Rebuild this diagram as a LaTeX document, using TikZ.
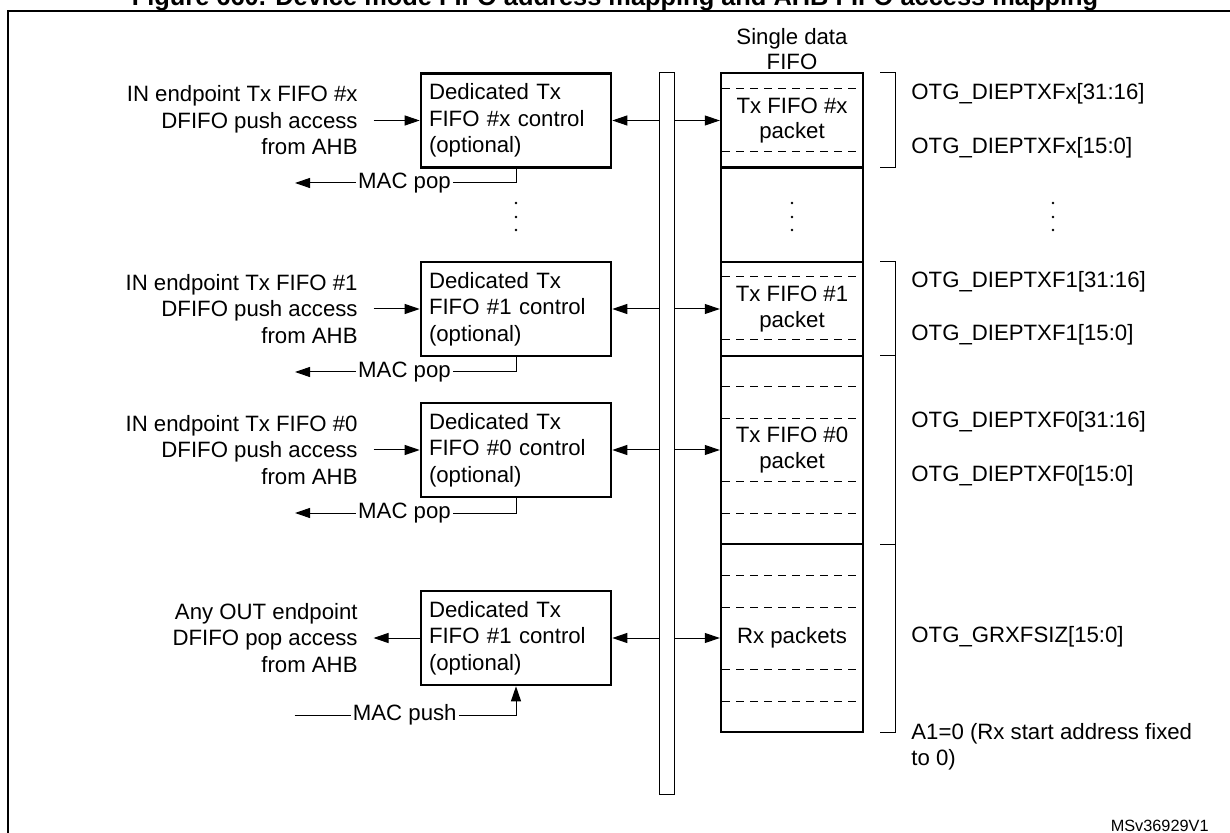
\documentclass[tikz,border=0pt]{standalone}
\usepackage{fontspec}
\setmainfont{Liberation Sans}
\usetikzlibrary{arrows.meta,calc}
\begin{document}
\begin{tikzpicture}[x=0.5pt,y=-0.5pt,
  every node/.style={font=\fontsize{11.1}{13.25}\selectfont, inner sep=0pt},
  ctrl/.style={draw, line width=1.3pt, minimum width=95pt, minimum height=47pt, text width=87pt, inner xsep=4pt, align=left},
  lbl/.style={align=right, anchor=east},
  reg/.style={anchor=west},
  sect/.style={draw, line width=1.2pt, minimum width=71pt, align=center, font=\fontsize{11.1}{12.6}\selectfont},
  arr/.style={line width=0.5pt, -{Triangle[length=7.5pt,width=5pt]}},
  ln/.style={line width=0.5pt},
  dsh/.style={line width=0.5pt, dash pattern=on 4pt off 3pt},
  dotm/.style={fill=black}
]
\useasboundingbox (0,0) rectangle (1230,833);
% title (clipped at top as in the reference)
\node[anchor=base, font=\bfseries\fontsize{12.7}{14}\selectfont] (title) at (615,6) {Figure 660. Device mode FIFO address mapping and AHB FIFO access mapping};
% frame
\draw[line width=1pt] (8,850) -- (8,11.5) -- (1240,11.5);

% bus
\node[draw, line width=0.5pt, minimum width=7.5pt, minimum height=360.5pt] (bus) at (666.5,433.5) {};

% FIFO column
\node at (792,49.5) [align=center, font=\fontsize{11.1}{12.5}\selectfont] (fifot) {Single data\\FIFO};
\node[sect, minimum height=47.25pt] (f1) at (792,120.25) {Tx FIFO \#x\\packet};
\node[sect, minimum height=47.25pt] (f2) at (792,214.75) {};
\node[sect, minimum height=47pt] (f3) at (792,309) {Tx FIFO \#1\\packet};
\node[sect, minimum height=94pt] (f4) at (792,450) {Tx FIFO \#0\\packet};
\node[sect, minimum height=94pt] (f5) at (792,638) {Rx packets};
\foreach \y in {89,152,277,340,387,419,481,513,575,607,669,701}
  \draw[dsh] (722,\y) -- (862,\y);

% brackets
\draw[ln] (880,73) -- (895,73) -- (895,167.5) -- (880,167.5);
\draw[ln] (880,262) -- (895,262) -- (895,732) -- (880,732);
\draw[ln] (880,356) -- (895,356);
\draw[ln] (880,544) -- (895,544);

% register labels
\node[reg] (r1) at (911,94) {OTG\_DIEPTXFx[31:16]};
\node[reg] (r2) at (911,148) {OTG\_DIEPTXFx[15:0]};
\node[reg] (r3) at (911,282) {OTG\_DIEPTXF1[31:16]};
\node[reg] (r4) at (911,335) {OTG\_DIEPTXF1[15:0]};
\node[reg] (r5) at (911,422) {OTG\_DIEPTXF0[31:16]};
\node[reg] (r6) at (911,476) {OTG\_DIEPTXF0[15:0]};
\node[reg] (r7) at (911,637) {OTG\_GRXFSIZ[15:0]};
\node[reg, align=left, font=\fontsize{11.1}{13}\selectfont] (r8) at (911,747) {A1=0 (Rx start address fixed\\to 0)};
\node[anchor=east, font=\fontsize{8.15}{10}\selectfont] (msv) at (1209,826) {MSv36929V1};

% control boxes
\node[ctrl] (b1) at (516,120.5) {Dedicated Tx\\FIFO \#x control\\(optional)};
\node[ctrl] (b2) at (516,309) {Dedicated Tx\\FIFO \#1 control\\(optional)};
\node[ctrl] (b3) at (516,450) {Dedicated Tx\\FIFO \#0 control\\(optional)};
\node[ctrl] (b4) at (516,638) {Dedicated Tx\\FIFO \#1 control\\(optional)};

% left labels
\node[lbl] (l1) at (358,120.5) {IN endpoint Tx FIFO \#x\\DFIFO push access\\from AHB};
\node[lbl] (l2) at (358,309) {IN endpoint Tx FIFO \#1\\DFIFO push access\\from AHB};
\node[lbl] (l3) at (358,450) {IN endpoint Tx FIFO \#0\\DFIFO push access\\from AHB};
\node[lbl] (l4) at (358,638) {Any OUT endpoint\\DFIFO pop access\\from AHB};

% AHB arrows
\draw[arr] ([xshift=7.75pt]l1.east) -- (l1.east -| b1.west);
\draw[arr] ([xshift=7.75pt]l2.east) -- (l2.east -| b2.west);
\draw[arr] ([xshift=7.75pt]l3.east) -- (l3.east -| b3.west);
\draw[arr] (l4.east -| b4.west) -- ([xshift=7.75pt]l4.east);

% bus arrows
\foreach \b/\f in {b1/f1,b2/f3,b3/f4,b4/f5}{
  \draw[arr] (bus.west |- \b.east) -- (\b.east);
  \draw[arr] (bus.east |- \b.east) -- (\f.west |- \b.east);
}

% MAC pop / push
\node[inner xsep=1pt] (m1) at (404.5,183) {MAC pop};
\node[inner xsep=1pt] (m2) at (404.5,372) {MAC pop};
\node[inner xsep=1pt] (m3) at (404.5,513) {MAC pop};
\coordinate (e1) at (295,183);
\coordinate (e2) at (295,372);
\coordinate (e3) at (295,513);
\draw[ln] (b1.south) |- (m1.east);
\draw[ln] (b2.south) |- (m2.east);
\draw[ln] (b3.south) |- (m3.east);
\draw[arr] (m1.west) -- (e1);
\draw[arr] (m2.west) -- (e2);
\draw[arr] (m3.west) -- (e3);
\node[inner xsep=1pt] (m4) at (404.75,715) {MAC push};
\coordinate (s4) at (294.5,715);
\draw[ln] (s4) -- (m4.west);
\draw[arr] (m4.east) -| (b4.south);

% vertical ellipsis dots
\foreach \x in {516,792,1053}
  \foreach \y in {203,217,230}
    \fill[dotm] (\x,\y) circle[radius=0.65pt];
\end{tikzpicture}
\end{document}
